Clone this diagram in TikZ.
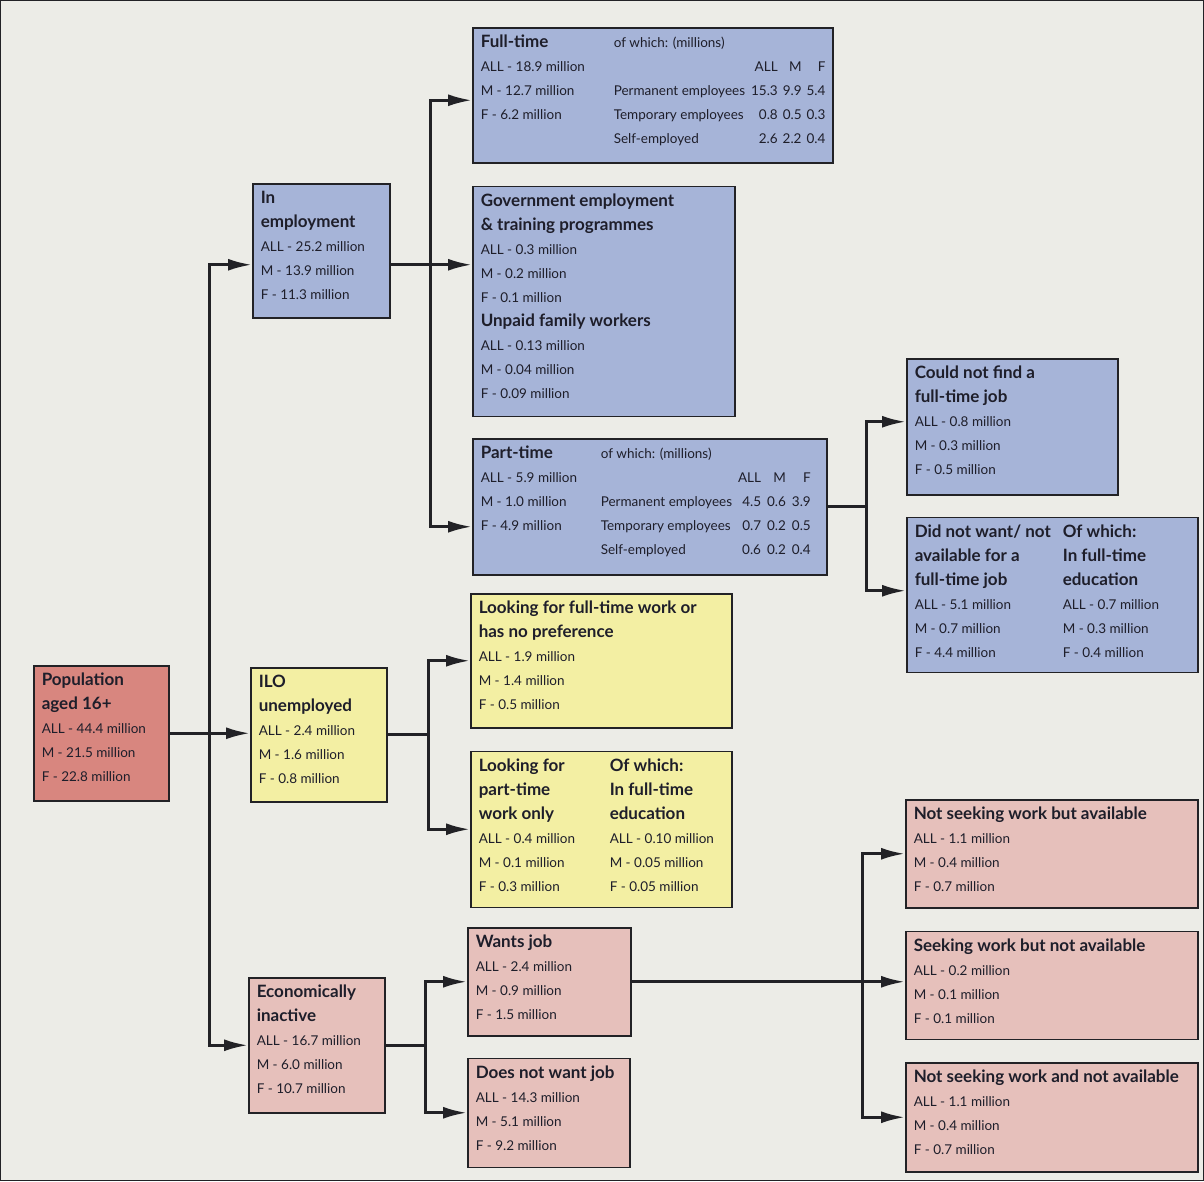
\documentclass[tikz,border=0pt]{standalone}
\usepackage{fontspec}
\setmainfont{Lato}
\usetikzlibrary{arrows.meta,
calc,
positioning}
\definecolor{bgc}{HTML}{ECECE7}
\definecolor{linec}{HTML}{222226}
\definecolor{textc}{HTML}{1E1E2A}
\definecolor{bluec}{HTML}{A6B4D8}
\definecolor{yelc}{HTML}{F3EFA3}
\definecolor{pinkc}{HTML}{E6C0BB}
\definecolor{redc}{HTML}{D8867F}
\newcommand*{\ttl}[1]{{\fontsize{17pt}{24pt}\selectfont\bfseries #1}}
\newcommand*{\dat}{\fontsize{13.5pt}{24pt}\selectfont}
\newcommand*{\boxtext}[3]{\parbox[c][#2][t]{#1}{\dat\raggedright\vspace*{3pt}\strut #3}}

\begin{document}
\begin{tikzpicture} [x=1pt, y=-1pt,
    main node/.style={draw=linec, line width=1.5pt, inner xsep=8pt,
        inner ysep=0pt, text=textc, anchor=north west},
    arr/.style={draw=linec, line width=3pt, -{Latex[length=24pt,width=12pt]}},
    link/.style={draw=linec, line width=3pt}
  ]

  \useasboundingbox (0,0) rectangle (1204,1181);
  \draw [draw=linec, line width=1pt, fill=bgc] (0.5,0.5) rectangle (1203.5,1180.5);

  % first column
  \node [main node, fill=redc] (pop) at (33,665) {\boxtext{119pt}{135pt}{%
    \ttl{Population}\\ \ttl{aged 16+}\\
    ALL - 44.4 million\\ M - 21.5 million\\ F - 22.8 million}};

  % second column
  \node [main node, fill=bluec] (inemp) at (252,183) {\boxtext{121pt}{134pt}{%
    \ttl{In}\\ \ttl{employment}\\
    ALL - 25.2 million\\ M - 13.9 million\\ F - 11.3 million}};

  \node [main node, fill=yelc] (ilo) at (250,667) {\boxtext{120pt}{134pt}{%
    \ttl{ILO}\\ \ttl{unemployed}\\
    ALL - 2.4 million\\ M - 1.6 million\\ F - 0.8 million}};

  \node [main node, fill=pinkc] (econ) at (248,977) {\boxtext{120pt}{135pt}{%
    \ttl{Economically}\\ \ttl{inactive}\\
    ALL - 16.7 million\\ M - 6.0 million\\ F - 10.7 million}};

  % third column
  \node [main node, fill=bluec] (full) at (472,27) {\boxtext{344pt}{135pt}{%
    \begin{tabular}[t]{@{}p{133pt}@{}l@{\hspace{6pt}}r@{\hspace{5pt}}r@{\hspace{5pt}}r@{}}
      \ttl{Full-time} & \multicolumn{4}{@{}l@{}}{of which: (millions)}\\
      ALL - 18.9 million & & ALL & M & F\\
      M - 12.7 million & Permanent employees & 15.3 & 9.9 & 5.4\\
      F - 6.2 million & Temporary employees & 0.8 & 0.5 & 0.3\\
      & Self-employed & 2.6 & 2.2 & 0.4
    \end{tabular}}};

  \node [main node, fill=bluec,
    below = 22pt of full.south west, anchor=north west
  ] (gov) {\boxtext{246pt}{230pt}{%
    \ttl{Government employment}\\ \ttl{\& training programmes}\\
    ALL - 0.3 million\\ M - 0.2 million\\ F - 0.1 million\\
    \ttl{Unpaid family workers}\\
    ALL - 0.13 million\\ M - 0.04 million\\ F - 0.09 million}};

  \node [main node, fill=bluec,
    below = 21pt of gov.south west, anchor=north west
  ] (part) {\boxtext{338pt}{136pt}{%
    \begin{tabular}[t]{@{}p{120pt}@{}l@{\hspace{6pt}}r@{\hspace{6pt}}r@{\hspace{6pt}}r@{}}
      \ttl{Part-time} & \multicolumn{4}{@{}l@{}}{of which: (millions)}\\
      ALL - 5.9 million & & ALL & M & F\\
      M - 1.0 million & Permanent employees & 4.5 & 0.6 & 3.9\\
      F - 4.9 million & Temporary employees & 0.7 & 0.2 & 0.5\\
      & Self-employed & 0.6 & 0.2 & 0.4
    \end{tabular}}};

  \node [main node, fill=yelc] (lft) at (470,593) {\boxtext{245pt}{134pt}{%
    \ttl{Looking for full-time work or}\\ \ttl{has no preference}\\
    ALL - 1.9 million\\ M - 1.4 million\\ F - 0.5 million}};

  \node [main node, fill=yelc,
    below = 22pt of lft.south west, anchor=north west
  ] (lpt) {\boxtext{245pt}{156pt}{%
    \begin{tabular}[t]{@{}p{131pt}@{}l@{}}
      \ttl{Looking for} & \ttl{Of which:}\\
      \ttl{part-time} & \ttl{In full-time}\\
      \ttl{work only} & \ttl{education}\\
      ALL - 0.4 million & ALL - 0.10 million\\
      M - 0.1 million & M - 0.05 million\\
      F - 0.3 million & F - 0.05 million
    \end{tabular}}};

  \node [main node, fill=pinkc] (wants) at (467,927) {\boxtext{147pt}{108pt}{%
    \ttl{Wants job}\\
    ALL - 2.4 million\\ M - 0.9 million\\ F - 1.5 million}};

  \node [main node, fill=pinkc,
    below = 21pt of wants.south west, anchor=north west
  ] (dnw) {\boxtext{146pt}{109pt}{%
    \ttl{Does not want job}\\
    ALL - 14.3 million\\ M - 5.1 million\\ F - 9.2 million}};

  % fourth column
  \node [main node, fill=bluec] (cnf) at (906,358) {\boxtext{195pt}{136pt}{%
    \ttl{Could not find a}\\ \ttl{full-time job}\\
    ALL - 0.8 million\\ M - 0.3 million\\ F - 0.5 million}};

  \node [main node, fill=bluec,
    below = 21pt of cnf.south west, anchor=north west
  ] (dnwft) {\boxtext{275pt}{155pt}{%
    \begin{tabular}[t]{@{}p{148pt}@{}l@{}}
      \ttl{Did not want/ not} & \ttl{Of which:}\\
      \ttl{available for a} & \ttl{In full-time}\\
      \ttl{full-time job} & \ttl{education}\\
      ALL - 5.1 million & ALL - 0.7 million\\
      M - 0.7 million & M - 0.3 million\\
      F - 4.4 million & F - 0.4 million
    \end{tabular}}};

  \node [main node, fill=pinkc] (nsa) at (905,799) {\boxtext{276pt}{108pt}{%
    \ttl{Not seeking work but available}\\
    ALL - 1.1 million\\ M - 0.4 million\\ F - 0.7 million}};

  \node [main node, fill=pinkc,
    below = 22pt of nsa.south west, anchor=north west
  ] (sna) {\boxtext{276pt}{108pt}{%
    \ttl{Seeking work but not available}\\
    ALL - 0.2 million\\ M - 0.1 million\\ F - 0.1 million}};

  \node [main node, fill=pinkc,
    below = 22pt of sna.south west, anchor=north west
  ] (nsna) {\boxtext{276pt}{109pt}{%
    \ttl{Not seeking work and not available}\\
    ALL - 1.1 million\\ M - 0.4 million\\ F - 0.7 million}};

  % connectors
  \coordinate (trunk) at ($(pop.east)!.5!(ilo.west)$);
  \draw [arr] (pop.east) -- (pop.east -| ilo.west);
  \draw [arr] (trunk) |- ([yshift=-14pt]inemp.west);
  \draw [arr] (trunk) |- (econ.west);

  \coordinate (empfork) at ([xshift=40pt,yshift=-14pt]inemp.east);
  \draw [arr] ([yshift=-14pt]inemp.east) -- (empfork -| gov.west);
  \draw [arr] (empfork) |- ([yshift=-5pt]full.west);
  \draw [arr] (empfork) |- ([yshift=-20pt]part.west);

  \coordinate (ptfork) at ([xshift=39pt]part.east);
  \draw [link] (part.east) -- (ptfork);
  \draw [arr] (ptfork) |- ([yshift=5pt]cnf.west);
  \draw [arr] (ptfork) |- ([yshift=4pt]dnwft.west);

  \coordinate (ilofork) at ([xshift=41pt]ilo.east);
  \draw [link] (ilo.east) -- (ilofork);
  \draw [arr] (ilofork) |- (lft.west);
  \draw [arr] (ilofork) |- (lpt.west);

  \coordinate (ecofork) at ([xshift=40pt]econ.east);
  \draw [link] (econ.east) -- (ecofork);
  \draw [arr] (ecofork) |- (wants.west);
  \draw [arr] (ecofork) |- (dnw.west);

  \coordinate (wantfork) at ([xshift=231pt]wants.east);
  \draw [arr] (wants.east) -- (wants.east -| sna.west);
  \draw [arr] (wantfork) |- (nsa.west);
  \draw [arr] (wantfork) |- (nsna.west);

\end{tikzpicture}
\end{document}
